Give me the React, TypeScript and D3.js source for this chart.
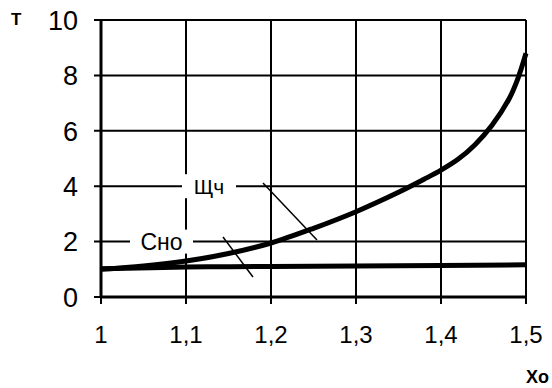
import * as d3 from "d3";
import React, { useRef, useEffect } from "react";

// x values (Xo)
const xTicks = [1, 1.1, 1.2, 1.3, 1.4, 1.5];
const yTicks = [0, 2, 4, 6, 8, 10];

// curve Щч
const shchX = [1.0, 1.05, 1.1, 1.15, 1.2, 1.25, 1.3, 1.35, 1.38, 1.4, 1.42, 1.44, 1.46, 1.48, 1.49, 1.5];
const shchY = [1.0, 1.12, 1.3, 1.57, 1.95, 2.48, 3.08, 3.78, 4.25, 4.58, 4.97, 5.5, 6.2, 7.15, 7.85, 8.8];

// curve Сно
const snoX = [1.0, 1.1, 1.2, 1.3, 1.4, 1.5];
const snoY = [1.02, 1.08, 1.1, 1.12, 1.14, 1.16];

const App = () => {
  const ref = useRef<SVGSVGElement>(null);

  useEffect(() => {
    if (!ref.current) return;
    const svg = d3.select(ref.current);
    svg.selectAll("*").remove();

    const x = d3.scaleLinear().domain([1, 1.5]).range([101, 526]);
    const y = d3.scaleLinear().domain([0, 10]).range([297, 20]);
    const font = "'Liberation Sans', Arial, sans-serif";

    svg.append("rect").attr("width", 552).attr("height", 388).attr("fill", "#fff");

    // сетка
    const grid = svg.append("g").attr("stroke", "#000").attr("stroke-width", 2);
    xTicks.forEach((t) => {
      grid.append("line")
        .attr("x1", x(t)).attr("x2", x(t))
        .attr("y1", y(10)).attr("y2", y(0) + 7);
    });
    yTicks.forEach((t) => {
      grid.append("line")
        .attr("x1", x(1) - 7).attr("x2", x(1.5))
        .attr("y1", y(t)).attr("y2", y(t));
    });
    // оси потолще
    grid.append("line").attr("x1", x(1)).attr("x2", x(1)).attr("y1", y(10)).attr("y2", y(0)).attr("stroke-width", 3);
    grid.append("line").attr("x1", x(1)).attr("x2", x(1.5)).attr("y1", y(0)).attr("y2", y(0)).attr("stroke-width", 3);

    // подписи осей
    svg.append("g").selectAll("text").data(yTicks).enter().append("text")
      .attr("x", 78).attr("y", (d) => y(d)).attr("dy", "0.36em")
      .attr("text-anchor", "end").attr("font-family", font).attr("font-size", 27)
      .text((d) => d);

    svg.append("g").selectAll("text").data(xTicks).enter().append("text")
      .attr("x", (d) => x(d)).attr("y", 343)
      .attr("text-anchor", "middle").attr("font-family", font).attr("font-size", 24)
      .text((d) => String(d).replace(".", ","));

    svg.append("text").attr("x", 11).attr("y", 25)
      .attr("font-family", font).attr("font-weight", "bold").attr("font-size", 17).text("T");
    svg.append("text").attr("x", 549).attr("y", 383).attr("text-anchor", "end")
      .attr("font-family", font).attr("font-weight", "bold").attr("font-size", 18).text("Xo");

    const line = d3.line<[number, number]>()
      .x((d) => x(d[0])).y((d) => y(d[1]))
      .curve(d3.curveCatmullRom.alpha(0.5));

    svg.append("path").datum(snoX.map((v, i) => [v, snoY[i]] as [number, number]))
      .attr("fill", "none").attr("stroke", "#000").attr("stroke-width", 5).attr("d", line);
    svg.append("path").datum(shchX.map((v, i) => [v, shchY[i]] as [number, number]))
      .attr("fill", "none").attr("stroke", "#000").attr("stroke-width", 5).attr("d", line);

    // метки кривых
    const labels = [
      { text: "Щч", yv: 4, x0: 182, x1: 236, size: 21 },
      { text: "Сно", yv: 2, x0: 130, x1: 193, size: 23 },
    ];
    labels.forEach((l) => {
      svg.append("rect").attr("x", l.x0).attr("y", y(l.yv) - 12).attr("width", l.x1 - l.x0).attr("height", 24).attr("fill", "#fff");
      svg.append("text").attr("x", (l.x0 + l.x1) / 2).attr("y", y(l.yv)).attr("dy", "0.36em")
        .attr("text-anchor", "middle").attr("font-family", font).attr("font-size", l.size).text(l.text);
    });
    // выноски
    svg.append("line").attr("x1", 263).attr("y1", 183).attr("x2", 317).attr("y2", 240)
      .attr("stroke", "#000").attr("stroke-width", 1.5);
    svg.append("line").attr("x1", 223).attr("y1", 237).attr("x2", 253).attr("y2", 277)
      .attr("stroke", "#000").attr("stroke-width", 1.5);
  }, []);

  return (
    <svg ref={ref} width={552} height={388}
      style={{ position: "absolute", left: 0, top: 0, display: "block" }} />
  );
};

export default App;
